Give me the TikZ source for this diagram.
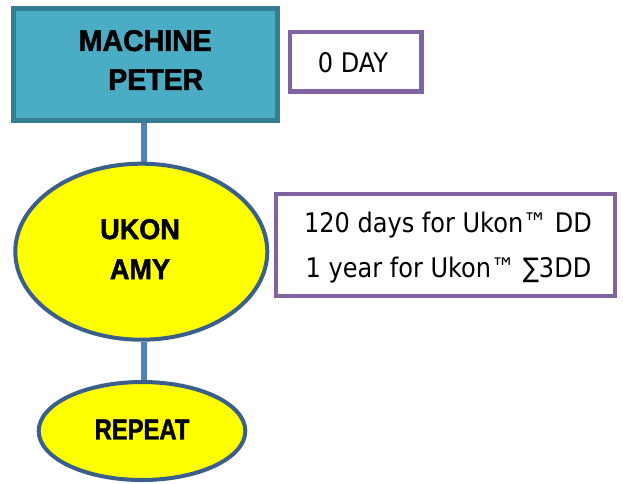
\documentclass[tikz,border=0pt]{standalone}
\usepackage{fontspec}
\setmainfont{DejaVu Sans}[FakeStretch=0.89]
\newfontfamily\hdfont{Liberation Sans}[FakeStretch=0.95, BoldFeatures={FakeBold=1.6}]
\newfontfamily\hdnarrow{Liberation Sans}[FakeStretch=0.82, BoldFeatures={FakeBold=1.6}]
\usetikzlibrary{shapes.geometric,backgrounds}
\definecolor{tealfill}{HTML}{4BACC6}
\definecolor{tealline}{HTML}{357D91}
\definecolor{ellline}{HTML}{3A5F8B}
\definecolor{yellfill}{HTML}{FFFF00}
\definecolor{connblue}{HTML}{4F81BD}
\definecolor{purp}{HTML}{8064A2}
\tikzset{
  machbox/.style={draw=tealline, fill=tealfill, line width=5pt, rectangle, inner sep=0pt, minimum width=264pt, minimum height=112pt},
  yellell/.style={draw=ellline, fill=yellfill, line width=4pt, ellipse, inner sep=0pt},
  notebox/.style={draw=purp, line width=4.5pt, fill=white, rectangle, inner sep=0pt},
  headtext/.style={inner sep=0pt, align=center, font=\hdfont\bfseries\fontsize{29}{40}\selectfont},
  plaintext/.style={inner sep=0pt, font=\fontsize{27}{45}\selectfont},
  conn/.style={draw=connblue, line width=6.5pt}
}
\begin{document}
\begin{tikzpicture}[x=1pt,y=-1pt]
\useasboundingbox (0,0) rectangle (623,483);
\node[machbox] (mach) at (145.3,64.7) {};
\node[headtext, font=\hdfont\bfseries\fontsize{30}{39}\selectfont] (macht) at (145.3,60) {MACHINE\\\hspace*{21pt}PETER};
\node[yellell, minimum width=252pt, minimum height=176pt] (ukon) at (141.3,251.7) {};
\node[headtext, font=\hdfont\bfseries\fontsize{28.5}{40}\selectfont] (ukont) at (140,249.1) {UKON\\AMY};
\node[yellell, minimum width=206.6pt, minimum height=98pt] (rep) at (142,431) {};
\node[headtext, font=\hdnarrow\bfseries\fontsize{29}{40}\selectfont] (rept) at (142,429.5) {REPEAT};
\node[notebox, minimum width=131.5pt, minimum height=59.5pt] (day) at (355.75,61.75) {};
\node[plaintext] (dayt) at (353,62.7) {0 DAY};
\node[notebox, minimum width=339pt, minimum height=102pt] (info) at (445.5,245) {};
\node[plaintext, anchor=base] (info1) at (448,232.3) {120 days for Ukon™ DD};
\node[plaintext, anchor=base] (info2) at (448.5,277.3) {1 year for Ukon™ ∑3DD};
\coordinate (cx) at (144,0);
\begin{scope}[on background layer]
\draw[conn] (mach.south -| cx) -- (ukon.north -| cx);
\draw[conn] (ukon.south -| cx) -- (rep.north -| cx);
\end{scope}
\end{tikzpicture}
\end{document}
